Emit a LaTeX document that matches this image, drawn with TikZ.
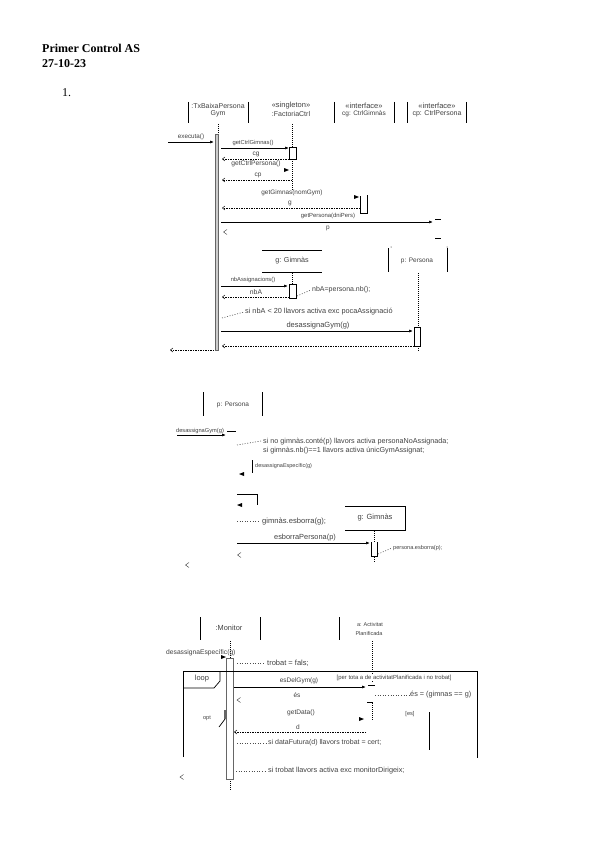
\documentclass[tikz,border=0pt]{standalone}
\usepackage{fontspec}
\setmainfont{Liberation Serif}
\newfontfamily\dsans{Liberation Sans}
\usetikzlibrary{arrows.meta}
\newcommand{\fsz}[1]{\dsans\fontsize{#1}{#1}\selectfont}
\begin{document}
\begin{tikzpicture}[x=1pt,y=-1pt,
  lbl/.style={font=\fsz{7}, text=black!75, inner sep=0pt},
  lbll/.style={lbl, anchor=west},
  msg/.style={line width=0.7pt, -{Latex[length=4pt,width=3pt]}},
  ret/.style={line width=0.5pt, dash pattern=on 1.5pt off 1pt, -{Straight Barb[length=2.5pt,width=4pt]}},
  life/.style={line width=0.6pt, dash pattern=on 1pt off 1pt},
  note/.style={line width=0.6pt, black!70, dash pattern=on 1pt off 1.6pt},
  act/.style={line width=0.7pt},
  gact/.style={draw=black!60, line width=0.8pt, fill=white},
  bar/.style={line width=0.8pt},
  chev/.style={line width=0.4pt, black!80},
]
\useasboundingbox (0,0) rectangle (600,848);
% ---------- header
\node[anchor=west, font=\bfseries\fontsize{12}{14}\selectfont, inner sep=0pt] (t1) at (42,48) {Primer Control AS};
\node[anchor=west, font=\bfseries\fontsize{12}{14}\selectfont, inner sep=0pt] (t2) at (42,64) {27-10-23};
\node[anchor=west, font=\fontsize{12}{14}\selectfont, inner sep=0pt] (n1) at (62,93) {1.};

% ================= DIAGRAM 1 =================
% heads
\draw[bar] (188,102) -- (188,123); \draw[bar] (248,102) -- (248,123);
\node[lbl] (h1a) at (218,106) {:TxBaixaPersona};
\node[lbl] (h1b) at (218,114) {Gym};
\node[lbl, font=\fsz{7.5}] (h2a) at (291,106) {«singleton»};
\node[lbl] (h2b) at (291,114) {:FactoriaCtrl};
\draw[bar] (334,102) -- (334,123); \draw[bar] (394,102) -- (394,123);
\node[lbl, font=\fsz{7.5}] (h3a) at (364,106) {«interface»};
\node[lbl, font=\fsz{6.5}] (h3b) at (364,114) {cg: CtrlGimnàs};
\draw[bar] (407,102) -- (407,123); \draw[bar] (466,102) -- (466,123);
\node[lbl, font=\fsz{7.5}] (h4a) at (437,106) {«interface»};
\node[lbl] (h4b) at (437,114) {cp: CtrlPersona};
% lifelines
\coordinate (l1t) at (218,124); \coordinate (l1b) at (218,134);
\draw[life] (l1t) -- (l1b);
\coordinate (l2t) at (292,124); \coordinate (l2b) at (292,147);
\draw[life] (l2t) -- (l2b);
\coordinate (l2c) at (292,159); \coordinate (l2d) at (292,191);
\draw[life] (l2c) -- (l2d);
% activation of transaction
\draw[draw=black!60, fill=black!20, line width=0.5pt] (215,134) rectangle (218.5,350);
% executa
\coordinate (e0) at (168,142); \coordinate (e1) at (214,142);
\draw[msg] (e0) -- (e1);
\node[lbl, font=\fsz{6.3}] (ex) at (191,137) {executa()};
% getCtrlGimnas
\coordinate (m1a) at (221,148); \coordinate (m1b) at (289,148);
\draw[msg] (m1a) -- (m1b);
\node[lbl, font=\fsz{5.8}] (m1l) at (253,143) {getCtrlGimnas()};
\draw[act] (289,147) rectangle (296,159);
\coordinate (r1a) at (289,159); \coordinate (r1b) at (222,159);
\draw[ret] (r1a) -- (r1b);
\node[lbl, font=\fsz{6.5}] (r1l) at (256,154) {cg};
\node[lbl, font=\fsz{6.7}] (m2l) at (256,164) {getCtrlPersona()};
\fill (289,170) -- (284,168) -- (284,172) -- cycle;
\coordinate (r2a) at (292,180); \coordinate (r2b) at (222,180);
\draw[ret] (r2a) -- (r2b);
\node[lbl, font=\fsz{6.5}] (r2l) at (258,175) {cp};
\node[lbl, font=\fsz{6.4}] (m3l) at (292,193) {getGimnas(nomGym)};
\fill (359,197) -- (354,195) -- (354,199) -- cycle;
\draw[act] (360,196) -- (360,213) -- (367,213) -- (367,195);
\coordinate (r3a) at (360,208); \coordinate (r3b) at (222,208);
\draw[ret] (r3a) -- (r3b);
\node[lbl, font=\fsz{6.5}] (r3l) at (290,203) {g};
\node[lbl, font=\fsz{5.9}] (m4l) at (328,216) {getPersona(dniPers)};
\coordinate (m4a) at (221,222); \coordinate (m4b) at (433,222);
\draw[msg] (m4a) -- (m4b);
\draw[line width=0.8pt] (435,219) -- (441,219);
\draw[line width=0.8pt] (435,238) -- (441,238);
\node[lbl, font=\fsz{6.5}] (r4l) at (328,228) {p};
\draw[chev] (227,229.5) -- (223.5,232) -- (227,234.5);
\fill (391,247) circle (0.5); \fill (447,247) circle (0.5);
% g: Gimnas , p: Persona
\draw[bar] (262,250) -- (322,250); \draw[bar] (262,272) -- (322,272);
\node[lbl, font=\fsz{7.2}] (gG) at (292,261) {g: Gimnàs};
\draw[bar] (388,248) -- (388,272); \draw[bar] (447,248) -- (447,272);
\node[lbl, font=\fsz{6.5}] (pP) at (417,261) {p: Persona};
\coordinate (lgt) at (292,273); \coordinate (lgb) at (292,299);
\draw[life] (lgt) -- (lgb);
\coordinate (lpt) at (418,273); \coordinate (lpb) at (418,327);
\draw[life] (lpt) -- (lpb);
\coordinate (lpc) at (418,346); \coordinate (lpd) at (418,351);
\draw[life] (lpc) -- (lpd);
\node[lbl, font=\fsz{5.8}] (m5l) at (253,280) {nbAssignacions()};
\coordinate (m5a) at (221,286); \coordinate (m5b) at (288,286);
\draw[msg] (m5a) -- (m5b);
\draw[act, fill=white] (289,284) rectangle (296,298);
\coordinate (r5a) at (289,297); \coordinate (r5b) at (222,297);
\draw[ret] (r5a) -- (r5b);
\node[lbl, font=\fsz{6.8}] (r5l) at (256,292) {nbA};
\coordinate (n1a) at (297,296); \coordinate (n1b) at (311,290);
\draw[note] (n1a) -- (n1b);
\node[lbll] (n1t) at (312,290) {nbA=persona.nb();};
\coordinate (n2a) at (222,318); \coordinate (n2b) at (244,312);
\draw[note] (n2a) -- (n2b);
\node[lbll, font=\fsz{7.3}] (n2t) at (245,312) {si nbA < 20 llavors activa exc pocaAssignació};
\node[lbl, font=\fsz{7.5}] (m6l) at (318,326) {desassignaGym(g)};
\coordinate (m6a) at (221,331); \coordinate (m6b) at (413,331);
\draw[msg] (m6a) -- (m6b);
\draw[act, fill=white] (414,327) rectangle (420,346);
\coordinate (r6a) at (414,346); \coordinate (r6b) at (222,346);
\draw[ret] (r6a) -- (r6b);
\coordinate (r7a) at (214,350); \coordinate (r7b) at (170,350);
\draw[ret] (r7a) -- (r7b);

% ================= DIAGRAM 2 =================
\draw[bar] (203,392) -- (203,416); \draw[bar] (262,392) -- (262,416);
\node[lbl, font=\fsz{6.5}] (pP2) at (233,405) {p: Persona};
\node[lbl, font=\fsz{5.7}] (d2m1) at (200,431) {desassignaGym(g)};
\coordinate (d2a) at (177,435); \coordinate (d2b) at (226,435);
\draw[msg] (d2a) -- (d2b);
\draw[line width=0.7pt] (227,431) -- (236,431);
\coordinate (d2n1) at (237,445); \coordinate (d2n2) at (261,441);
\draw[note] (d2n1) -- (d2n2);
\node[lbll, font=\fsz{7.2}] (d2t1) at (263,442) {si no gimnàs.conté(p) llavors activa personaNoAssignada;};
\node[lbll, font=\fsz{7.2}] (d2t2) at (263,451) {si gimnàs.nb()==1 llavors activa únicGymAssignat;};
\draw[line width=0.7pt] (252,460) -- (252,473);
\node[lbll, font=\fsz{5.5}] (d2t3) at (255,466) {desassignaEspecífic(g)};
\fill (239,474) -- (244,472) -- (244,476) -- cycle;
\draw[line width=0.7pt] (237,494) -- (257,494) -- (257,505);
\fill (237,505) -- (242,503) -- (242,507) -- cycle;
\coordinate (d2n3) at (237,521); \coordinate (d2n4) at (260,521);
\draw[note] (d2n3) -- (d2n4);
\node[lbll, font=\fsz{7.6}] (d2t4) at (262,521) {gimnàs.esborra(g);};
\draw[bar] (345,506) -- (405,506) -- (405,530) -- (345,530);
\node[lbl, font=\fsz{7.5}] (gG2) at (375,518) {g: Gimnàs};
\coordinate (lg2t) at (374,531); \coordinate (lg2b) at (374,563);
\draw[life] (lg2t) -- (lg2b);
\node[lbl, font=\fsz{7.4}] (d2m2) at (305,538) {esborraPersona(p)};
\coordinate (d2c) at (237,543); \coordinate (d2d) at (370,543);
\draw[msg] (d2c) -- (d2d);
\draw[act, fill=white] (371,542) -- (371,556) -- (377,556) -- (377,542);
\coordinate (d2n5) at (378,554); \coordinate (d2n6) at (392,548);
\draw[note] (d2n5) -- (d2n6);
\node[lbll, font=\fsz{5.6}] (d2t5) at (393,548) {persona.esborra(p);};
\draw[chev] (241,552.5) -- (237.5,555) -- (241,557.5);
\draw[chev] (189,562.5) -- (185.5,565) -- (189,567.5);

% ================= DIAGRAM 3 =================
\draw[bar] (200,617) -- (200,640); \draw[bar] (260,617) -- (260,640);
\draw[bar] (339,617) -- (339,640);
\node[lbl, font=\fsz{7.4}] (mon) at (229,628) {:Monitor};
\node[lbl, font=\fsz{5.5}] (apa) at (370,625) {a: Activitat};
\node[lbl, font=\fsz{5.5}] (apb) at (369,634) {Planificada};
\coordinate (lmt) at (230,641); \coordinate (lmb) at (230,658);
\draw[life] (lmt) -- (lmb);
\coordinate (lmc) at (230,779); \coordinate (lmd) at (230,791);
\draw[life] (lmc) -- (lmd);
\coordinate (lat) at (372,641); \coordinate (lab) at (372,683);
\draw[life] (lat) -- (lab);
\coordinate (lac) at (372,703); \coordinate (lad) at (372,720);
\draw[life] (lac) -- (lad);
\node[lbll, font=\fsz{6.7}] (d3m0) at (166,653) {desassignaEspecífic(g)};
\fill (226,657) -- (221,655) -- (221,659) -- cycle;
\draw[gact] (226,658) rectangle (233,779);
\coordinate (d3n1) at (237,663); \coordinate (d3n2) at (265,663);
\draw[note] (d3n1) -- (d3n2);
\node[lbll, font=\fsz{7.5}] (d3t1) at (267,663) {trobat = fals;};
% loop frame
\draw[line width=0.8pt] (183,757) -- (183,671) -- (477,671) -- (477,758);
\draw[line width=0.7pt] (183,688) -- (214,688) -- (220,681) -- (220,671);
\node[lbl, font=\fsz{7.5}] (loop) at (202,679) {loop};
\node[lbll, font=\fsz{5.9}, fill=white, inner sep=0.5pt] (guard) at (336,678) {[per tota a de activitatPlanificada i no trobat]};
\node[lbl, font=\fsz{6.5}] (d3m1) at (299,681) {esDelGym(g)};
\coordinate (d3a) at (234,687); \coordinate (d3b) at (366,687);
\draw[msg] (d3a) -- (d3b);
\draw[line width=0.8pt] (368,685) -- (375,685);
\draw[line width=0.8pt] (367,702) -- (373,702);
\node[lbl, font=\fsz{6.5}] (es) at (297,695) {és};
\coordinate (d3n3) at (375,695); \coordinate (d3n4) at (409,695);
\draw[note] (d3n3) -- (d3n4);
\node[lbll, font=\fsz{7.3}] (d3t2) at (410,695) {és = (gimnas == g)};
\draw[chev] (240.5,697.5) -- (237,700) -- (240.5,702.5);
% opt
\node[lbl, font=\fsz{5.6}] (opt) at (207,718) {opt};
\draw[line width=0.7pt] (219,727) -- (225,719);
\draw[line width=1.2pt, black!60] (225,710) -- (225,719);
\node[lbl, font=\fsz{6.6}] (gd) at (301,713) {getData()};
\node[lbl, font=\fsz{5.6}] (esg) at (410,714) {[es]};
\fill (364,719) -- (359,717) -- (359,721) -- cycle;
\draw[line width=0.8pt] (429,712) -- (429,750);
\node[lbl, font=\fsz{6.5}] (dd) at (298,727) {d};
\coordinate (d3c) at (366,732); \coordinate (d3d) at (234,732);
\draw[ret] (d3c) -- (d3d);
\coordinate (d3n5) at (237,743); \coordinate (d3n6) at (266,743);
\draw[note] (d3n5) -- (d3n6);
\node[lbll] (d3t3) at (268,743) {si dataFutura(d) llavors trobat = cert;};
\coordinate (d3n7) at (236,771); \coordinate (d3n8) at (266,771);
\draw[note] (d3n7) -- (d3n8);
\node[lbll, font=\fsz{7.3}] (d3t4) at (268,771) {si trobat llavors activa exc monitorDirigeix;};
\draw[chev] (183.5,774.5) -- (180,777) -- (183.5,779.5);
\end{tikzpicture}
\end{document}
